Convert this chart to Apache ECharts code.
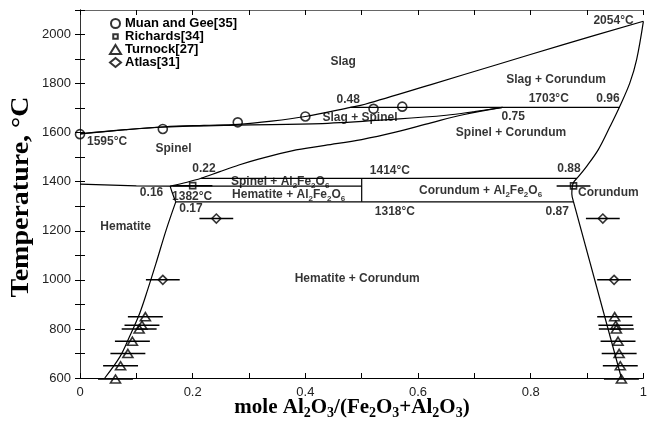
<!DOCTYPE html>
<html><head><meta charset="utf-8">
<script src="https://cdn.jsdelivr.net/npm/echarts@6/dist/echarts.min.js"></script>
<style>html,body{margin:0;padding:0;background:#fff}#c{width:650px;height:423px}</style>
</head><body><div id="c"></div>
<script>
// ---- phase boundaries [x = mole fraction Al2O3, T in °C] ----
const liquidus = [[0,1595],[0.08,1612],[0.15,1624],[0.22,1630],[0.28,1634],[0.34,1647],[0.40,1666],[0.48,1703],[0.506,1716],[0.623,1796],[0.741,1878],[0.858,1959],[1,2054]];
const spinelSolidus = [[0,1595],[0.08,1612],[0.15,1623],[0.28,1631],[0.43,1637],[0.56,1655],[0.65,1671],[0.70,1686],[0.75,1703]];
const spinelSolvus = [[0.16,1382],[0.19,1398],[0.215,1414],[0.247,1440],[0.282,1468],[0.317,1492],[0.376,1526],[0.435,1548],[0.5,1572],[0.56,1602],[0.623,1640],[0.68,1673],[0.75,1703]];
const corundumSolvusHigh = [[1,2054],[0.988,1898],[0.976,1803],[0.958,1707],[0.941,1626],[0.92,1531],[0.899,1462],[0.882,1414]];
const corundumBracket = [[0.882,1414],[0.875,1392],[0.873,1350],[0.876,1318]];
const corundumSolvusLow = [[0.876,1318],[0.961,600]];
const hematiteSpinel = [[0,1390],[0.1,1383],[0.16,1382]];
const hematiteBracket = [[0.16,1382],[0.163,1360],[0.167,1335],[0.17,1318]];
const hematiteSolvus = [[0.17,1318],[0.153,1204],[0.135,1068],[0.12,959],[0.106,864],[0.088,769],[0.071,687],[0.044,600]];
const iso1703 = [[0.48,1703],[0.958,1703]];
const iso1414 = [[0.215,1414],[0.882,1414]];
const iso1382 = [[0.16,1382],[0.5,1382]];
const iso1318 = [[0.17,1318],[0.876,1318]];
const join05 = [[0.5,1318],[0.5,1414]];

// ---- experimental points [x, T, x-error] ----
const muanGee = [[0,1594],[0.147,1615],[0.28,1642],[0.40,1666],[0.521,1697],[0.572,1706]];
const richards = [[0.2,1384,0.035],[0.876,1383,0.03]];
const turnock = [[0.116,850,0.031],[0.11,815,0.031],[0.105,800,0.031],[0.093,750,0.031],[0.085,700,0.031],[0.072,650,0.031],[0.063,596,0.031],
                 [0.949,850,0.031],[0.951,815,0.031],[0.952,800,0.031],[0.955,750,0.031],[0.957,700,0.031],[0.959,650,0.031],[0.961,596,0.031]];
const atlas = [[0.242,1250,0.03],[0.147,1000,0.03],[0.928,1250,0.03],[0.948,1000,0.03]];

const legendNames = ['Muan and Gee[35]','Richards[34]','Turnock[27]','Atlas[31]'];
const xTickLabels = {0:'0',2:'0.2',4:'0.4',6:'0.6',8:'0.8',10:'1'};

// ---- text annotations [text, x, T, align] ----
const annotations = [
  ['Slag',0.467,1890,'center'],
  ['Slag + Corundum',0.845,1815,'center'],
  ['0.48',0.476,1735,'center'],
  ['1703°C',0.832,1738,'center'],
  ['0.96',0.937,1739,'center'],
  ['Slag + Spinel',0.497,1661,'center'],
  ['0.75',0.769,1667,'center'],
  ['Spinel + Corundum',0.765,1601,'center'],
  ['2054°C',0.947,2058,'center'],
  ['1595°C',0.048,1565,'center'],
  ['Spinel',0.166,1535,'center'],
  ['0.22',0.220,1452,'center'],
  ['1414°C',0.550,1446,'center'],
  ['0.88',0.868,1453,'center'],
  ['Spinel + Al{s|2}Fe{s|2}O{s|6}',0.268,1399,'left'],
  ['Hematite + Al{s|2}Fe{s|2}O{s|6}',0.270,1346,'left'],
  ['Corundum + Al{s|2}Fe{s|2}O{s|6}',0.711,1363,'center'],
  ['Corundum',0.884,1355,'left'],
  ['0.16',0.127,1356,'center'],
  ['1382°C',0.199,1340,'center'],
  ['0.17',0.197,1289,'center'],
  ['1318°C',0.559,1276,'center'],
  ['0.87',0.847,1276,'center'],
  ['Hematite',0.081,1218,'center'],
  ['Hematite + Corundum',0.492,1004,'center']
];

const SANS = '"Liberation Sans", Arial, sans-serif';
const SERIF = '"Liberation Serif", "Times New Roman", serif';
const lineSeries = (data, smooth) => ({
  type:'line', data, symbol:'none', silent:true, smooth: smooth ? 0.35 : false,
  lineStyle:{color:'#000', width:1.2}, z:2, clip:true
});
const markerStyle = {color:'rgba(0,0,0,0)', borderColor:'#000', borderWidth:1.6};

const errorBars = [].concat(richards, turnock, atlas);

const chart = echarts.init(document.getElementById('c'));
chart.setOption({
  animation:false,
  backgroundColor:'#fff',
  grid:{left:80, right:3, top:10, bottom:45},
  xAxis:[
    {type:'value', min:0, max:1, interval:0.1, position:'bottom',
     axisLine:{lineStyle:{color:'#000', width:1}},
     axisTick:{inside:true, length:5, lineStyle:{color:'#000'}},
     axisLabel:{margin:8, color:'#222', fontSize:13, fontFamily:SANS,
       formatter:(v)=>{const k=Math.round(v*10); return xTickLabels[k]!==undefined?xTickLabels[k]:'';}},
     splitLine:{show:false}},
    {type:'value', min:0, max:1, interval:0.1, position:'top',
     axisLine:{lineStyle:{color:'#666'}}, axisTick:{inside:true, length:5, lineStyle:{color:'#000'}},
     axisLabel:{show:false}, splitLine:{show:false}}
  ],
  yAxis:[
    {type:'value', min:600, max:2100, interval:100, position:'left',
     axisLine:{show:true, lineStyle:{color:'#000'}},
     axisTick:{inside:true, length:5, lineStyle:{color:'#000'}},
     axisLabel:{margin:9, color:'#222', fontSize:13, fontFamily:SANS,
       formatter:(v)=> (v%200===0 && v<=2000) ? String(v) : ''},
     splitLine:{show:false}},
    {type:'value', min:600, max:2100, interval:100, position:'right',
     axisLine:{show:true, lineStyle:{color:'#333'}},
     axisTick:{inside:true, length:5, lineStyle:{color:'#000'}},
     axisLabel:{show:false}, splitLine:{show:false}}
  ],
  legend:{
    orient:'vertical', left:104, top:12, itemWidth:11, itemHeight:9, itemGap:0,
    data:[
      {name:legendNames[0]},
      {name:legendNames[1], icon:'path://M0,0M10,10M2.5,2.5h5v5h-5z'},
      {name:legendNames[2]},
      {name:legendNames[3]}
    ],
    textStyle:{fontFamily:SANS, fontWeight:'bold', fontSize:13, color:'#000', lineHeight:12.5, padding:[0,0,0,-1]}
  },
  series:[
    lineSeries(liquidus,true),
    lineSeries(spinelSolidus,true),
    lineSeries(spinelSolvus,true),
    lineSeries(corundumSolvusHigh,true),
    lineSeries(corundumBracket,true),
    lineSeries(corundumSolvusLow,false),
    lineSeries(hematiteSpinel,false),
    lineSeries(hematiteBracket,true),
    lineSeries(hematiteSolvus,true),
    lineSeries(iso1703,false),
    lineSeries(iso1414,false),
    lineSeries(iso1382,false),
    lineSeries(iso1318,false),
    lineSeries(join05,false),
    {type:'custom', silent:true, z:3, data:errorBars, encode:{x:0,y:1}, clip:false,
     renderItem:(params, api)=>{
       const x=api.value(0), y=api.value(1), e=api.value(2);
       const a=api.coord([x-e,y]), b=api.coord([x+e,y]);
       return {type:'line', shape:{x1:a[0],y1:a[1],x2:b[0],y2:b[1]}, style:{stroke:'#000', lineWidth:1.5}};
     }},
    {name:legendNames[0], type:'scatter', data:muanGee, symbol:'circle', symbolSize:9, itemStyle:markerStyle, z:4, clip:false},
    {name:legendNames[1], type:'scatter', data:richards, symbol:'rect', symbolSize:6, itemStyle:markerStyle, z:4, clip:false},
    {name:legendNames[2], type:'scatter', data:turnock, symbol:'triangle', symbolSize:[10,8], itemStyle:markerStyle, z:4, clip:false},
    {name:legendNames[3], type:'scatter', data:atlas, symbol:'diamond', symbolSize:9, itemStyle:markerStyle, z:4, clip:false},
    {type:'scatter', silent:true, z:5, symbolSize:0, clip:false,
     data: annotations.map(a=>({value:[a[1],a[2]], label:{align:a[3]}, txt:a[0]})),
     label:{show:true, position:[0,0], verticalAlign:'middle', color:'#000',
       fontFamily:SANS, fontWeight:'bold', fontSize:12, lineHeight:15,
       formatter:(p)=>p.data.txt,
       rich:{s:{fontFamily:SANS, fontWeight:'bold', fontSize:8, lineHeight:8, verticalAlign:'bottom', color:'#000'}}}}
  ],
  graphic:[
    {type:'text', x:22, y:197, rotation:Math.PI/2, scaleX:1.12,
     style:{text:'Temperature, °C', font:'bold 25px '+SERIF, fill:'#000', align:'center', verticalAlign:'middle'}},
    {type:'text', x:352, y:408,
     style:{text:'mole Al{s|2}O{s|3}/(Fe{s|2}O{s|3}+Al{s|2}O{s|3})', font:'bold 21px '+SERIF, lineHeight:25, fill:'#000', align:'center', verticalAlign:'middle',
       rich:{s:{font:'bold 14px '+SERIF, fontSize:14, fontWeight:'bold', fontFamily:SERIF, lineHeight:14, fill:'#000', verticalAlign:'bottom'}}}}
  ]
});
</script></body></html>
